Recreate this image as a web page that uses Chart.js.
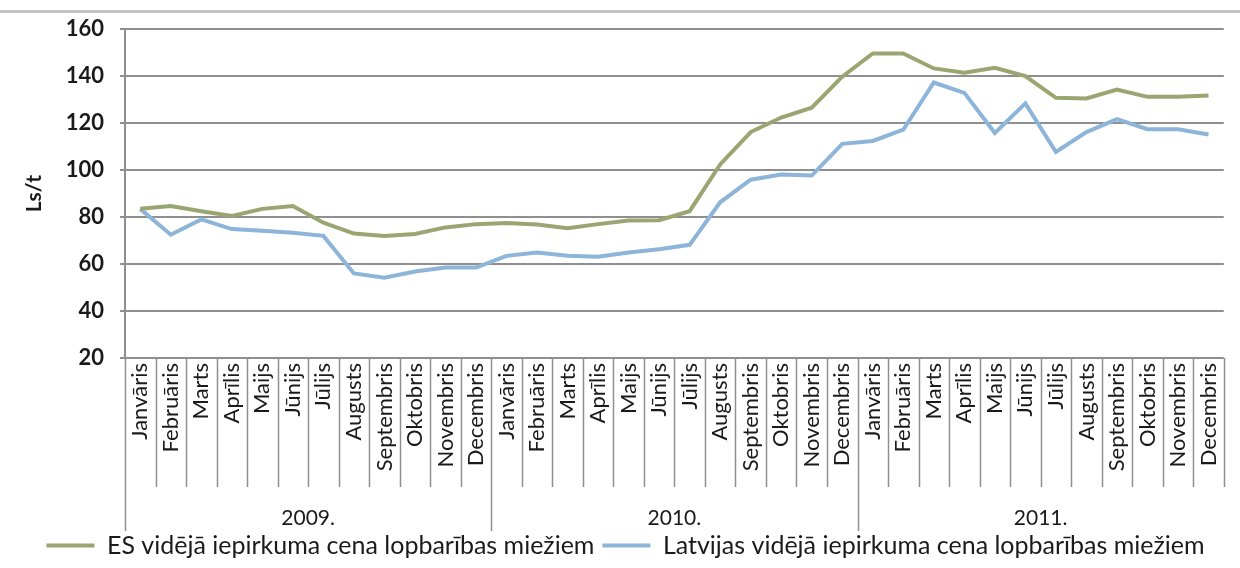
<!DOCTYPE html>
<html>
<head>
<meta charset="utf-8">
<script src="https://cdn.jsdelivr.net/npm/chart.js@4.4.0/dist/chart.umd.min.js"></script>
<style>
  html, body { margin: 0; padding: 0; background: #fff; }
  #wrap { width: 1240px; height: 568px; }
</style>
</head>
<body>
<div id="wrap"><canvas id="myChart"></canvas></div>
<script>
// months (category labels) and year groups
const months = ['Janvāris', 'Februāris', 'Marts', 'Aprīlis', 'Maijs', 'Jūnijs',
  'Jūlijs', 'Augusts', 'Septembris', 'Oktobris', 'Novembris', 'Decembris'];
const years = ['2009.', '2010.', '2011.'];
const labels = [].concat(months, months, months);

// prices, Ls/t
const esPrice = [
  83.5, 84.7, 82.5, 80.5, 83.5, 84.7, 77.6, 73.0, 71.9, 72.8, 75.6, 77.0,
  77.5, 76.8, 75.3, 77.0, 78.5, 78.7, 82.5, 102.4, 116.2, 122.4, 126.6, 139.8,
  149.7, 149.7, 143.3, 141.5, 143.6, 140.0, 130.8, 130.5, 134.3, 131.2, 131.2, 131.8
];
const lvPrice = [
  83.5, 72.5, 79.0, 74.9, 74.2, 73.3, 72.0, 56.0, 54.2, 56.8, 58.5, 58.5,
  63.5, 64.9, 63.5, 63.1, 64.9, 66.3, 68.2, 86.3, 95.9, 98.1, 97.7, 111.2,
  112.4, 117.2, 137.3, 132.9, 115.8, 128.4, 107.7, 116.2, 121.7, 117.4, 117.4, 115.2
];

const seriesNames = [
  'ES vidējā iepirkuma cena lopbarības miežiem',
  'Latvijas vidējā iepirkuma cena lopbarības miežiem'
];

const gridColor = '#8f8f8f';
const fontFamily = 'Lato, "Open Sans", sans-serif';

// month separators, year separators and year labels under the x axis
const groupAxis = {
  id: 'groupAxis',
  beforeDraw(chart) {
    const ctx = chart.ctx;
    ctx.save();
    ctx.fillStyle = '#c4c4c4';
    ctx.fillRect(0, 10, chart.width, 3);
    ctx.restore();
  },
  afterDraw(chart) {
    const ctx = chart.ctx;
    const x = chart.scales.x;
    const top = chart.chartArea.bottom;
    ctx.save();
    ctx.strokeStyle = gridColor;
    ctx.lineWidth = 1.5;
    for (let i = 0; i <= labels.length; i++) {
      const px = Math.round(x.getPixelForValue(i - 0.5)) + 0.5;
      const isYear = i % 12 === 0 && i < labels.length;
      ctx.beginPath();
      ctx.moveTo(px, top);
      ctx.lineTo(px, top + (isYear ? 173 : 129));
      ctx.stroke();
    }
    ctx.fillStyle = '#1a1a1a';
    ctx.font = '21px ' + fontFamily;
    ctx.textAlign = 'center';
    ctx.textBaseline = 'middle';
    years.forEach((y, g) => {
      ctx.fillText(y, x.getPixelForValue(g * 12 + 5.5), top + 160);
    });
    ctx.restore();
  }
};

const ctx = document.getElementById('myChart').getContext('2d');
new Chart(ctx, {
  type: 'line',
  data: {
    labels: labels,
    datasets: [{
      label: seriesNames[0],
      data: esPrice,
      borderColor: '#99a672',
      backgroundColor: '#99a672',
      borderWidth: 4,
      pointRadius: 0,
      tension: 0
    }, {
      label: seriesNames[1],
      data: lvPrice,
      borderColor: '#8db4d9',
      backgroundColor: '#8db4d9',
      borderWidth: 4,
      pointRadius: 0,
      tension: 0
    }]
  },
  options: {
    responsive: true,
    maintainAspectRatio: false,
    animation: false,
    layout: { padding: { left: 18, right: 7, top: 19, bottom: 0 } },
    plugins: {
      legend: {
        position: 'bottom',
        labels: {
          usePointStyle: true,
          pointStyle: 'line',
          pointStyleWidth: 48,
          padding: 8,
          color: '#1a1a1a',
          font: { family: fontFamily, size: 25 }
        }
      },
      tooltip: { enabled: false }
    },
    scales: {
      x: {
        offset: true,
        grid: { display: false, drawTicks: false },
        border: { display: false },
        ticks: {
          autoSkip: false,
          maxRotation: 90,
          minRotation: 90,
          padding: 5,
          color: '#1a1a1a',
          font: { family: fontFamily, size: 22 }
        },
        afterFit(scale) { scale.height = 167; }
      },
      y: {
        min: 20,
        max: 160,
        ticks: {
          stepSize: 20,
          padding: 16,
          color: '#1a1a1a',
          font: { family: fontFamily, size: 22, weight: 'bold' }
        },
        grid: { color: gridColor, lineWidth: 2, tickLength: 5 },
        border: { color: gridColor, width: 2 },
        title: {
          display: true,
          text: 'Ls/t',
          color: '#1a1a1a',
          font: { family: fontFamily, size: 21, weight: 'bold' }
        },
        afterFit(scale) { scale.width = 107; }
      }
    }
  },
  plugins: [groupAxis]
});
</script>
</body>
</html>
